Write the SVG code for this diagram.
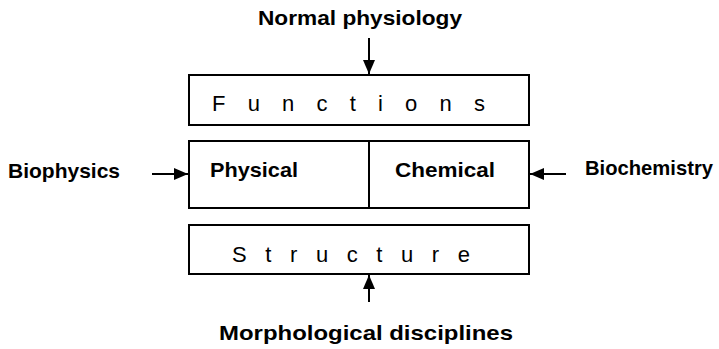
<svg xmlns="http://www.w3.org/2000/svg" width="719" height="349" viewBox="0 0 719 349">
<style>
.box{fill:#fff;stroke:#000;stroke-width:2}
.b{font-family:"Liberation Sans",Arial,sans-serif;font-weight:bold;font-size:21px;fill:#000}
.s{font-family:"Liberation Sans",Arial,sans-serif;font-size:22px;fill:#000}
.c{stroke:#000;stroke-width:2;fill:none}
</style>
<defs>
<marker id="ah" viewBox="0 0 14 12" refX="14" refY="6" markerWidth="14" markerHeight="12" markerUnits="userSpaceOnUse" orient="auto">
<path d="M0,0 L14,6 L0,12 z" fill="#000"/>
</marker>
</defs>
<g id="functions">
<rect class="box" x="189" y="75" width="340" height="50"/>
<text class="s" x="212" y="111" textLength="273" lengthAdjust="spacing">Functions</text>
</g>
<g id="physical-chemical">
<rect class="box" x="189" y="141" width="340" height="67"/>
<line class="c" x1="369" y1="141" x2="369" y2="208"/>
</g>
<g id="physical"><text class="b" x="210" y="177" textLength="88" lengthAdjust="spacingAndGlyphs">Physical</text></g>
<g id="chemical"><text class="b" x="395" y="177" textLength="100" lengthAdjust="spacingAndGlyphs">Chemical</text></g>
<g id="structure">
<rect class="box" x="189" y="225" width="340" height="49"/>
<text class="s" x="232" y="262" textLength="238" lengthAdjust="spacing">Structure</text>
</g>
<g id="normal"><text class="b" x="258" y="25" font-size="22" textLength="204" lengthAdjust="spacingAndGlyphs">Normal physiology</text></g>
<g id="biophysics"><text class="b" x="8" y="178" textLength="112" lengthAdjust="spacingAndGlyphs">Biophysics</text></g>
<g id="biochemistry"><text class="b" x="585" y="175" textLength="128" lengthAdjust="spacingAndGlyphs">Biochemistry</text></g>
<g id="morph"><text class="b" x="219" y="340" font-size="23" textLength="294" lengthAdjust="spacingAndGlyphs">Morphological disciplines</text></g>
<g id="connectors">
<line class="c" x1="369" y1="38" x2="369" y2="74" marker-end="url(#ah)"/>
<line class="c" x1="152" y1="174" x2="188" y2="174" marker-end="url(#ah)"/>
<line class="c" x1="566" y1="174" x2="530" y2="174" marker-end="url(#ah)"/>
<line class="c" x1="369" y1="302" x2="369" y2="275" marker-end="url(#ah)"/>
</g>
</svg>
